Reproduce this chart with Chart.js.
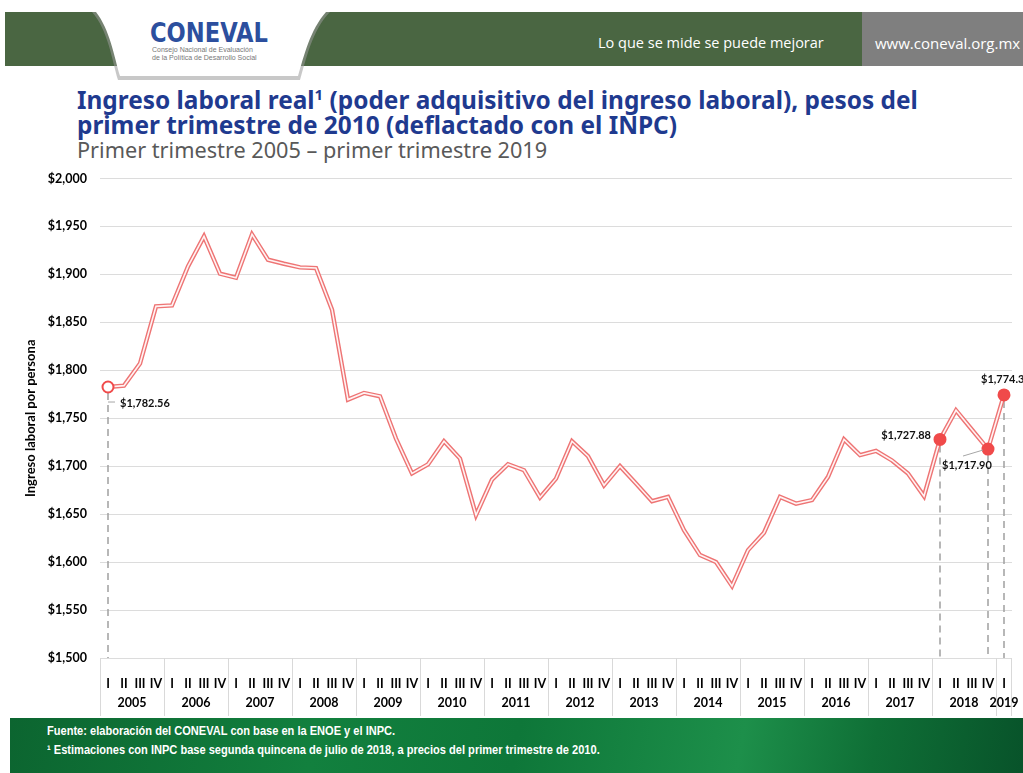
<!DOCTYPE html>
<html>
<head>
<meta charset="utf-8">
<script src="https://cdn.jsdelivr.net/npm/chart.js@4"></script>
<style>
  body { margin: 0; width: 1023px; height: 773px; overflow: hidden; background: #fff; position: relative; font-family: Lato, sans-serif; }
  #header { position: absolute; left: 0; top: 0; }
  .head-text { position: absolute; color: #fff; font-family: "Open Sans", sans-serif; font-size: 14.5px; top: 33px; }
  #title { position: absolute; left: 77px; top: 87px; color: #1f3a8f; font-family: "Noto Sans", sans-serif; font-weight: bold; font-size: 24.4px; line-height: 25px; white-space: nowrap; }
  #title sup { font-size: 15px; vertical-align: 9px; line-height: 0; }
  #subtitle { position: absolute; left: 77px; top: 137px; color: #595959; font-family: "Noto Sans", sans-serif; font-size: 21.7px; line-height: 25px; white-space: nowrap; }
  #chartBox { position: absolute; left: 0; top: 158px; width: 1023px; height: 567px; }
  #footer { position: absolute; left: 10px; top: 718px; width: 1013px; height: 55px;
    background: linear-gradient(100deg, #0c6530 0%, #12803e 30%, #0e7739 50%, #1d8f4a 72%, #0f6f36 85%, #08532a 100%); }
  .foot { position: absolute; left: 37px; color: #fff; font-family: "Liberation Sans", sans-serif; font-weight: bold; font-size: 12.5px; white-space: nowrap; transform: scaleX(0.885); transform-origin: left center; }
</style>
</head>
<body>
<svg id="header" width="1023" height="90">
  <rect x="5" y="12" width="860" height="54" fill="#4a6642"/>
  <rect x="862" y="12" width="161" height="54" fill="#7f7f7f"/>
  <path d="M118,80 C112,60 108,30 92,12 L330,12 C312,30 306,60 300,80 Z" fill="#9a9a9a" opacity="0.55"/>
  <path d="M120,76 C114,56 110,30 96,12 L326,12 C310,30 304,56 298,76 Z" fill="#fff"/>
  <text x="150" y="42" font-family="DejaVu Sans" font-weight="bold" font-size="27" fill="#2c4f9e" textLength="118" lengthAdjust="spacingAndGlyphs">CONEVAL</text>
  <text x="152" y="52" font-family="Liberation Sans" font-size="7" fill="#777">Consejo Nacional de Evaluación</text>
  <text x="152" y="60" font-family="Liberation Sans" font-size="7" fill="#777">de la Política de Desarrollo Social</text>
</svg>
<div class="head-text" style="left:598px">Lo que se mide se puede mejorar</div>
<div class="head-text" style="left:875px; font-size:15px">www.coneval.org.mx</div>

<div id="title">Ingreso laboral real<sup>1</sup> (poder adquisitivo del ingreso laboral), pesos del<br>primer trimestre de 2010 (deflactado con el INPC)</div>
<div id="subtitle">Primer trimestre 2005 – primer trimestre 2019</div>

<div id="chartBox"><canvas id="ingresoChart" width="1023" height="567"></canvas></div>

<div id="footer">
  <div class="foot" style="top:6px">Fuente: elaboración del CONEVAL con base en la ENOE y el INPC.</div>
  <div class="foot" style="top:25px">¹ Estimaciones con INPC base segunda quincena de julio de 2018, a precios del primer trimestre de 2010.</div>
</div>

<script>
// quarters 2005-I ... 2019-I
const years = ['2005', '2006', '2007', '2008', '2009', '2010', '2011', '2012', '2013', '2014', '2015', '2016', '2017', '2018', '2019'];
const quarterNames = ['I', 'II', 'III', 'IV'];

const ingreso = [
    1782.56, 1784.0, 1807.0, 1866.7,   // 2005
    1867.7, 1908.3, 1939.6, 1900.7,    // 2006
    1896.5, 1941.7, 1915.3, 1911.1,    // 2007
    1907.3, 1906.6, 1863.2, 1769.5,    // 2008
    1776.4, 1772.9, 1728.8, 1692.4,    // 2009
    1702.0, 1726.0, 1708.0, 1649.0,    // 2010
    1686.0, 1702.0, 1695.8, 1667.4,    // 2011
    1687.0, 1726.0, 1710.4, 1680.0,    // 2012
    1700.0, 1682.0, 1663.5, 1668.0,    // 2013
    1633.3, 1607.3, 1600.0, 1575.0,    // 2014
    1612.5, 1630.6, 1668.0, 1661.0,    // 2015
    1664.6, 1688.9, 1728.0, 1711.5,    // 2016
    1716.0, 1706.0, 1692.4, 1668.8,    // 2017
    1727.88, 1758.3, 1738.0, 1717.90,  // 2018
    1774.3                             // 2019
];

// highlighted points and their callout texts
const highlightIdx = [0, 52, 55, 56];
const calloutText = ['$1,782.56', '$1,727.88', '$1,717.90', '$1,774.3'];

const yTicksMin = 1500;
const yTicksMax = 2000;
const yTicksStep = 50;

// build category labels (one per quarter)
const labels = [];
years.forEach((yr, i) => {
    const n = i === years.length - 1 ? 1 : 4;
    for (let q = 0; q < n; q++) labels.push(quarterNames[q]);
});

const RED = '#f04a4a';

// year row, separators, drop lines and callouts
const decorPlugin = {
    id: 'decor',
    beforeDatasetsDraw(chart) {
        const ctx = chart.ctx;
        const x = chart.scales.x;
        const y = chart.scales.y;
        const bottom = chart.chartArea.bottom;
        ctx.save();
        ctx.strokeStyle = '#a0a0a0';
        ctx.lineWidth = 1.5;
        ctx.setLineDash([7, 5]);
        highlightIdx.forEach((i) => {
            const px = x.getPixelForValue(i);
            const py = y.getPixelForValue(ingreso[i]);
            ctx.beginPath();
            ctx.moveTo(px, py + 6);
            ctx.lineTo(px, bottom);
            ctx.stroke();
        });
        ctx.restore();
    },
    afterDatasetsDraw(chart) {
        const ctx = chart.ctx;
        const x = chart.scales.x;
        const y = chart.scales.y;
        const area = chart.chartArea;
        const half = (x.getPixelForValue(1) - x.getPixelForValue(0)) / 2;

        ctx.save();
        // year separators
        ctx.strokeStyle = '#d9d9d9';
        ctx.lineWidth = 1;
        let start = 0;
        years.forEach((yr, i) => {
            const n = i === years.length - 1 ? 1 : 4;
            const x0 = x.getPixelForValue(start) - half;
            const x1 = x.getPixelForValue(start + n - 1) + half;
            ctx.beginPath();
            ctx.moveTo(Math.round(x0) + 0.5, area.bottom);
            ctx.lineTo(Math.round(x0) + 0.5, area.bottom + 58);
            ctx.stroke();
            if (i === years.length - 1) {
                ctx.beginPath();
                ctx.moveTo(Math.round(x1) - 0.5, area.bottom);
                ctx.lineTo(Math.round(x1) - 0.5, area.bottom + 58);
                ctx.stroke();
            }
            ctx.fillStyle = '#000';
            ctx.font = 'bold 12.5px Lato';
            ctx.textAlign = 'center';
            ctx.textBaseline = 'middle';
            ctx.fillText(yr, (x0 + x1) / 2, area.bottom + 45);
            start += n;
        });

        // callouts
        ctx.font = 'bold 11px Lato';
        ctx.fillStyle = '#111';
        ctx.strokeStyle = '#a6a6a6';
        ctx.lineWidth = 1;
        const pts = highlightIdx.map((i) => ({ px: x.getPixelForValue(i), py: y.getPixelForValue(ingreso[i]) }));
        // first point: label below right with a small tick
        ctx.beginPath();
        ctx.moveTo(pts[0].px, pts[0].py + 15);
        ctx.lineTo(pts[0].px + 7, pts[0].py + 15);
        ctx.stroke();
        ctx.textAlign = 'left';
        ctx.fillText(calloutText[0], pts[0].px + 12, pts[0].py + 16);
        // 2018-I: left of point
        ctx.textAlign = 'right';
        ctx.fillText(calloutText[1], pts[1].px - 9, pts[1].py - 4);
        // 2018-IV: below left with leader
        ctx.beginPath();
        ctx.moveTo(pts[2].px - 25, pts[2].py + 7);
        ctx.lineTo(pts[2].px - 5, pts[2].py + 1);
        ctx.stroke();
        ctx.textAlign = 'left';
        ctx.fillText(calloutText[2], pts[2].px - 46, pts[2].py + 16);
        // 2019-I: above
        ctx.fillText(calloutText[3], pts[3].px - 23, pts[3].py - 15);
        ctx.restore();
    }
};

const ctx = document.getElementById('ingresoChart').getContext('2d');

new Chart(ctx, {
    type: 'line',
    data: {
        labels: labels,
        datasets: [
            // markers on top
            {
                data: ingreso,
                showLine: false,
                pointRadius: (c) => (highlightIdx.includes(c.dataIndex) ? 5.5 : 0),
                pointBorderWidth: 2,
                pointBorderColor: RED,
                pointBackgroundColor: (c) => (c.dataIndex === 0 ? '#fff' : RED),
                order: 0,
            },
            // inner light stroke
            {
                data: ingreso,
                borderColor: '#fff3f3',
                borderWidth: 1.6,
                pointRadius: 0,
                tension: 0,
                order: 1,
            },
            // outer red stroke
            {
                data: ingreso,
                borderColor: '#ee7474',
                borderWidth: 4.4,
                pointRadius: 0,
                tension: 0,
                order: 2,
            },
        ],
    },
    options: {
        responsive: false,
        animation: false,
        events: [],
        layout: { padding: { top: 6, right: 11, bottom: 5, left: 0 } },
        plugins: {
            legend: { display: false },
            tooltip: { enabled: false },
        },
        scales: {
            x: {
                offset: true,
                grid: { display: false },
                border: { display: false },
                ticks: {
                    autoSkip: false,
                    maxRotation: 0,
                    padding: 10,
                    color: '#000',
                    font: { family: 'Lato', weight: 'bold', size: 12.5 },
                },
                afterFit: (scale) => { scale.height = 62; },
            },
            y: {
                min: yTicksMin,
                max: yTicksMax,
                grid: { color: '#dcdcdc', lineWidth: 1, drawTicks: false },
                border: { display: false },
                ticks: {
                    stepSize: yTicksStep,
                    padding: 13,
                    color: '#000',
                    font: { family: 'Lato', weight: 'bold', size: 12.5 },
                    callback: (v) => '$' + v.toLocaleString('en-US'),
                },
                title: {
                    display: true,
                    text: 'Ingreso laboral por persona',
                    color: '#000',
                    font: { family: 'Lato', weight: 'bold', size: 13 },
                    padding: { top: 23, bottom: 0 },
                },
                afterFit: (scale) => { scale.width = 100; },
            },
        },
    },
    plugins: [decorPlugin],
});
</script>
</body>
</html>
